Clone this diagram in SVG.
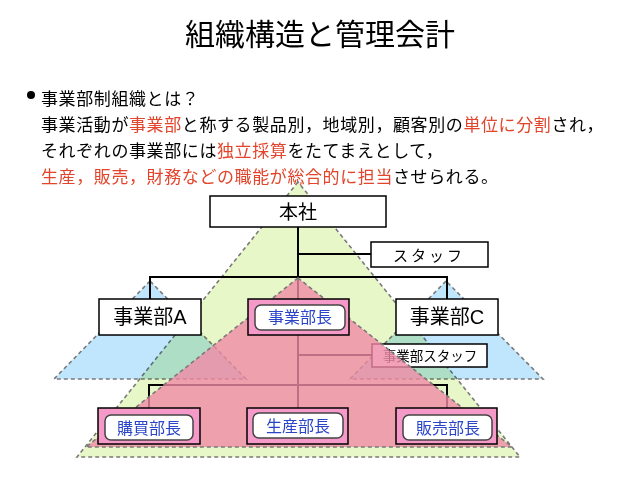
<svg xmlns="http://www.w3.org/2000/svg" width="638" height="479" viewBox="0 0 638 479">
<style>
text{font-family:"Liberation Sans","Noto Sans CJK JP",sans-serif;fill:#000}
.title{font-size:30px}
.body{font-size:17px;letter-spacing:0.6px}
.red{fill:#e2452c}
.tri{stroke:#7a7a7a;stroke-width:1.6;stroke-dasharray:4 3}
.box{fill:#fff;stroke:#000;stroke-width:1.5}
.pbox{fill:#f59ac8;stroke:#000;stroke-width:1.5}
.inner{fill:#fff;stroke:#444;stroke-width:1.5}
.conn{stroke:#000;stroke-width:2;fill:none}
.lbl{font-size:19px;text-anchor:middle;dominant-baseline:central}
.blue{font-size:16px;fill:#2a45c8;text-anchor:middle;dominant-baseline:central}
</style>
<rect width="638" height="479" fill="#fff"/>
<text class="title" x="320" y="45" text-anchor="middle">組織構造と管理会計</text>
<circle cx="31" cy="95" r="4" fill="#000"/>
<text class="body" x="41" y="105">事業部制組織とは？</text>
<text class="body" x="41" y="131">事業活動が<tspan class="red">事業部</tspan>と称する製品別，地域別，顧客別の<tspan class="red">単位に分割</tspan>され，</text>
<text class="body" x="41" y="157">それぞれの事業部には<tspan class="red">独立採算</tspan>をたてまえとして，</text>
<text class="body" x="41" y="183"><tspan class="red">生産，販売，財務などの職能が総合的に担当</tspan>させられる。</text>

<g id="tri-green"><polygon class="tri" points="298,182 77,457 520,457" fill="#e8f7c8"/></g>
<g id="tri-blue-a"><polygon class="tri" points="150,281 54,379 246,379" fill="#bfe6fd" style="mix-blend-mode:multiply"/></g>
<g id="tri-blue-c"><polygon class="tri" points="446,281 350,379 543,379" fill="#bfe6fd" style="mix-blend-mode:multiply"/></g>

<g id="connectors">
<path class="conn" d="M298,227 V299 M298,254 H371 M150,277 H447 M150,276 V299 M447,276 V299"/>
<path class="conn" d="M298,335 V408 M298,355 H372 M149,385 H447 M149,384 V408 M447,384 V408"/>
</g>

<g id="bu-staff"><rect class="box" x="372" y="344" width="115" height="23"/><text x="430" y="356" style="font-size:13.5px;text-anchor:middle;dominant-baseline:central">事業部スタッフ</text></g>

<g id="tri-pink"><polygon class="tri" points="298,278 86,447 512,447" fill="#f08aa6" fill-opacity="0.8" stroke="#8a6a70"/></g>

<g id="honsha"><rect class="box" x="210" y="196" width="176" height="31"/><text class="lbl" x="298" y="212">本社</text></g>
<g id="staff"><rect class="box" x="371" y="242" width="117" height="25"/><text x="429" y="255" style="font-size:15px;letter-spacing:3px;text-anchor:middle;dominant-baseline:central">スタッフ</text></g>
<g id="bu-a"><rect class="box" x="99" y="299" width="102" height="36"/><text class="lbl" x="150" y="317" style="font-size:20px">事業部A</text></g>
<g id="bu-c"><rect class="box" x="396" y="299" width="102" height="36"/><text class="lbl" x="447" y="317" style="font-size:20px">事業部C</text></g>
<g id="bu-head"><rect class="pbox" x="248" y="299" width="101" height="36"/><rect class="inner" x="255" y="305" width="90" height="25" rx="6"/><text class="blue" x="300" y="317">事業部長</text></g>
<g id="purchase"><rect class="pbox" x="98" y="408" width="102" height="36"/><rect class="inner" x="105" y="415" width="88" height="25" rx="6"/><text class="blue" x="149" y="428">購買部長</text></g>
<g id="production"><rect class="pbox" x="247" y="408" width="101" height="36"/><rect class="inner" x="253" y="413" width="90" height="25" rx="6"/><text class="blue" x="298" y="426">生産部長</text></g>
<g id="sales"><rect class="pbox" x="396" y="408" width="101" height="36"/><rect class="inner" x="403" y="415" width="89" height="25" rx="6"/><text class="blue" x="448" y="428">販売部長</text></g>
</svg>
